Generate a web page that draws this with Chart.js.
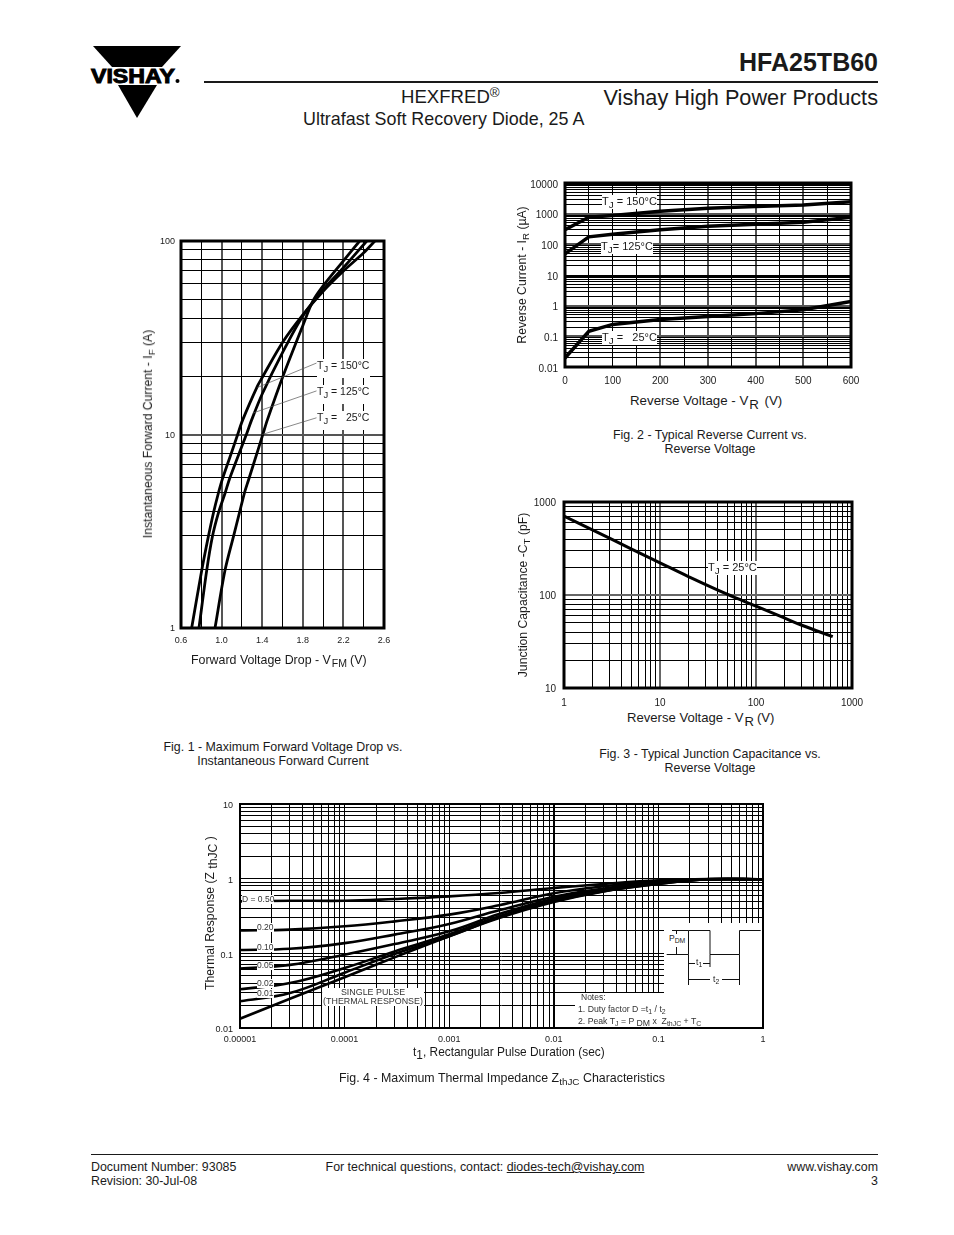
<!DOCTYPE html>
<html>
<head>
<meta charset="utf-8">
<script src="https://cdn.jsdelivr.net/npm/chart.js@4"></script>
<style>
  html, body { margin: 0; padding: 0; background: #fff; }
  body { position: relative; width: 954px; height: 1235px; overflow: hidden; font-family: 'Liberation Sans', Arial, sans-serif; color: #1a1a1a; }
  canvas { position: absolute; }
  .t { position: absolute; white-space: nowrap; line-height: 1; }
  .c { transform: translateX(-50%); text-align: center; }
  .r { transform: translateX(-100%); }
  .v { transform: translate(-50%, -50%) rotate(-90deg); font-size: 12.2px; }
  .cap { font-size: 12.4px; }
  .ax { font-size: 12.4px; }
  .lab { background: #fff; font-size: 10.5px; padding: 1px 0 2px; }
  .lab sub { font-size: .9em; }
  .tall { padding-bottom: 7px; }
  .sm { background: #fff; font-size: 8.5px; color: #333; }
  sub { font-size: .8em; line-height: 0; vertical-align: -.28em; }
  sup { font-size: .72em; line-height: 0; vertical-align: .45em; }
  .ax sub { font-size: .85em; margin: 0 3px 0 1px; }
  .rule { position: absolute; background: #1a1a1a; }
  .blank { position: absolute; background: #fff; }
  svg { position: absolute; }
</style>
</head>
<body>

<!-- page header -->
<svg style="left:85px;top:40px" width="105" height="85" viewBox="85 40 105 85">
  <polygon points="93,46 181,46 162,67 112,67" fill="#000"/>
  <polygon points="118,85 157,85 137,118" fill="#000"/>
  <text x="91" y="83" font-family="Liberation Sans" font-weight="bold" font-size="21" textLength="84" lengthAdjust="spacingAndGlyphs" stroke="#000" stroke-width="1">VISHAY</text>
  <circle cx="177.5" cy="81" r="2" fill="#000"/>
</svg>
<div class="t r" style="left:878px;top:50px;font-size:25px;font-weight:bold">HFA25TB60</div>
<div class="rule" style="left:204px;top:81px;width:674px;height:2px"></div>
<div class="t r" style="left:878px;top:87px;font-size:21.7px">Vishay High Power Products</div>
<div class="t" style="left:401px;top:88px;font-size:18.6px">HEXFRED<sup>®</sup></div>
<div class="t" style="left:303px;top:111px;font-size:17.9px">Ultrafast Soft Recovery Diode, 25 A</div>

<canvas id="fig1" width="260" height="430" style="left:140px;top:225px"></canvas>
<canvas id="fig2" width="350" height="220" style="left:520px;top:170px"></canvas>
<canvas id="fig3" width="350" height="220" style="left:520px;top:490px"></canvas>
<canvas id="fig4" width="575" height="260" style="left:205px;top:790px"></canvas>

<!-- fig 1 text -->
<div class="t v" style="left:148px;top:434px">Instantaneous Forward Current - I<sub>F</sub> (A)</div>
<div class="t ax" style="left:191px;top:654px">Forward Voltage Drop - V<sub>FM</sub>(V)</div>
<div class="t lab tall" style="left:317px;top:359px;width:53px">T<sub>J</sub> = 150°C</div>
<div class="t lab tall" style="left:317px;top:385px;width:53px">T<sub>J</sub> = 125°C</div>
<div class="t lab tall" style="left:317px;top:411px;width:53px">T<sub>J</sub> =&nbsp;&nbsp; 25°C</div>
<div class="t cap c" style="left:283px;top:741px">Fig. 1 - Maximum Forward Voltage Drop vs.</div>
<div class="t cap c" style="left:283px;top:755px">Instantaneous Forward Current</div>

<!-- fig 2 text -->
<div class="t v" style="left:522px;top:275px">Reverse Current - I<sub>R</sub> (µA)</div>
<div class="t ax" style="left:630px;top:394px;font-size:13.3px">Reverse Voltage - V<sub style="font-size:1em;margin:0 2px 0 1px">R</sub> (V)</div>
<div class="t lab" style="left:602px;top:195px;font-size:11px">T<sub>J</sub> = 150°C</div>
<div class="t lab" style="left:601px;top:240px;font-size:11px">T<sub>J</sub>= 125°C</div>
<div class="t lab" style="left:602px;top:331px;font-size:11px">T<sub>J</sub> =&nbsp;&nbsp; 25°C</div>
<div class="t cap c" style="left:710px;top:429px">Fig. 2 - Typical Reverse Current vs.</div>
<div class="t cap c" style="left:710px;top:443px">Reverse Voltage</div>

<!-- fig 3 text -->
<div class="t v" style="left:523px;top:595px">Junction Capacitance -C<sub>T</sub> (pF)</div>
<div class="t ax" style="left:627px;top:711px;font-size:13.1px">Reverse Voltage - V<sub style="font-size:1em">R</sub>(V)</div>
<div class="t lab" style="left:708px;top:561px;font-size:11px">T<sub>J</sub> = 25°C</div>
<div class="t cap c" style="left:710px;top:748px">Fig. 3 - Typical Junction Capacitance vs.</div>
<div class="t cap c" style="left:710px;top:762px">Reverse Voltage</div>

<!-- fig 4 text -->
<div class="t v" style="left:210px;top:913px">Thermal Response (Z<sub style="font-size:1em"> thJC </sub>)</div>
<div class="t ax" style="left:413px;top:1047px;font-size:11.9px">t<sub style="font-size:1em;margin:0">1</sub>, Rectangular Pulse Duration (sec)</div>
<div class="t sm" style="left:242px;top:895px">D = 0.50</div>
<div class="t sm" style="left:257px;top:923px">0.20</div>
<div class="t sm" style="left:257px;top:943px">0.10</div>
<div class="t sm" style="left:257px;top:961px">0.05</div>
<div class="t sm" style="left:257px;top:979px">0.02</div>
<div class="t sm" style="left:257px;top:989px">0.01</div>
<div class="t sm c" style="left:373px;top:988px;padding:0 1px;line-height:9px;font-size:8.9px">SINGLE PULSE<br>(THERMAL RESPONSE)</div>
<div class="blank" style="left:664px;top:923px;width:98px;height:72px"></div>
<div class="blank" style="left:575px;top:993px;width:187px;height:34px"></div>
<svg style="left:664px;top:923px" width="100" height="66" fill="none" stroke="#111" stroke-width="1">
  <path d="M2.7 31.5H24.5V7.5H46V31.5H75.5V7.5H96.7"/>
  <path d="M24.5 31.5V62M46 31.5V44M75.5 31.5V62"/>
  <path d="M8 7.5H24.5M12.5 7.5V15M12.5 24V31.5"/>
  <path d="M24.5 40.5H31M39 40.5H46M24.5 56.5H46M58 56.5H75.5"/>
</svg>
<div class="t" style="left:669px;top:934px;font-size:8.5px;background:#fff">P<sub>DM</sub></div>
<div class="t" style="left:696px;top:958px;font-size:8.5px">t<sub>1</sub></div>
<div class="t" style="left:713px;top:975px;font-size:8.5px">t<sub>2</sub></div>
<div class="t" style="left:581px;top:993px;font-size:8.5px;color:#333">Notes:</div>
<div class="t" style="left:578px;top:1005px;font-size:8.7px;color:#333">1. Duty factor D =t<sub>1</sub> / t<sub>2</sub></div>
<div class="t" style="left:578px;top:1017px;font-size:8.7px;color:#333">2. Peak T<sub>J</sub> = P <sub style="font-size:1em">DM</sub> x&nbsp; Z<sub>thJC</sub> + T<sub>C</sub></div>
<div class="t cap" style="left:339px;top:1072px">Fig. 4 - Maximum Thermal Impedance Z<sub>thJC</sub> Characteristics</div>

<!-- page footer -->
<div class="rule" style="left:91px;top:1154px;width:787px;height:1px"></div>
<div class="t cap" style="left:91px;top:1161px">Document Number: 93085</div>
<div class="t cap" style="left:91px;top:1175px">Revision: 30-Jul-08</div>
<div class="t cap c" style="left:485px;top:1161px">For technical questions, contact: <u>diodes-tech@vishay.com</u></div>
<div class="t cap r" style="left:878px;top:1161px">www.vishay.com</div>
<div class="t cap r" style="left:878px;top:1175px">3</div>

<script>
// fig 1 - forward voltage drop
const vf150 = [0.705, 0.804, 0.869, 0.919, 0.968, 1.007, 1.099, 1.15, 1.208, 1.353, 1.4, 1.6, 1.8, 2.0, 2.2, 2.4, 2.51]
const if150 = [1, 1.98, 2.96, 3.92, 4.97, 5.86, 8.1, 9.7, 11.9, 17.8, 19.7, 29.9, 41.5, 55, 70, 87, 100]
const vf125 = [0.777, 0.853, 0.909, 0.968, 1.034, 1.076, 1.165, 1.247, 1.296, 1.4, 1.6, 1.8, 2.0, 2.2, 2.43]
const if125 = [1, 1.98, 2.96, 3.92, 4.97, 5.86, 7.8, 10.1, 11.9, 16.2, 26.5, 41, 56, 72.8, 100]
const vf25 = [0.935, 1.033, 1.116, 1.175, 1.224, 1.263, 1.362, 1.411, 1.451, 1.6, 1.8, 1.9, 2.0, 2.2, 2.36]
const if25 = [1, 1.98, 2.96, 3.92, 4.97, 5.77, 8.43, 10.2, 11.9, 19.7, 36.5, 49, 58.6, 79, 100]
const leaderV150 = [1.353, 1.935]
const leaderI150 = [17.5, 23.4]
const leaderV125 = [1.307, 1.935]
const leaderI125 = [12.9, 16.8]
const leaderV25 = [1.4, 1.935]
const leaderI25 = [10, 12.2]
const fig1XTicks = [0.6, 0.8, 1.0, 1.2, 1.4, 1.6, 1.8, 2.0, 2.2, 2.4, 2.6]
const fig1XLabels = [0.6, 1.0, 1.4, 1.8, 2.2, 2.6]
const fig1XHeavy = [1.0, 1.4, 1.8, 2.2]
const fig1YLabels = [1, 10, 100]

// fig 2 - reverse current
const vr = [0, 50, 100, 200, 300, 400, 500, 600]
const ir150 = [300, 764, 865, 1197, 1500, 1700, 1923, 2450]
const ir125 = [49, 175, 214, 300, 389, 452, 525, 764]
const ir25 = [0.0197, 0.146, 0.245, 0.357, 0.447, 0.55, 0.74, 1.38]
const fig2XTicks = [0, 50, 100, 150, 200, 250, 300, 350, 400, 450, 500, 550, 600]
const fig2XLabels = [0, 100, 200, 300, 400, 500, 600]
const fig2XHeavy = [200, 300, 400, 500]
const fig2YLabels = [0.01, 0.1, 1, 10, 100, 1000, 10000]

// fig 3 - junction capacitance
const vrCap = [1, 2, 5, 10, 20, 50, 100, 200, 300, 630]
const capT = [706, 499, 314, 222, 157, 102, 75.9, 56.3, 47.3, 35.7]
const fig3XLabels = [1, 10, 100, 1000]
const fig3YLabels = [10, 100, 1000]

// fig 4 - thermal impedance
const t1 = [0.00001, 0.00003, 0.0001, 0.0003, 0.001, 0.003, 0.01, 0.03, 0.1, 0.3, 1]
const zD50 = [0.497, 0.507, 0.505, 0.535, 0.58, 0.643, 0.75, 0.85, 0.95, 0.985, 0.98]
const zD20 = [0.203, 0.208, 0.23, 0.268, 0.33, 0.44, 0.637, 0.79, 0.925, 0.985, 0.98]
const zD10 = [0.111, 0.115, 0.137, 0.178, 0.247, 0.377, 0.574, 0.74, 0.91, 0.98, 0.98]
const zD05 = [0.0624, 0.07, 0.096, 0.133, 0.197, 0.336, 0.54, 0.71, 0.89, 0.98, 0.98]
const zD02 = [0.033, 0.04, 0.0637, 0.106, 0.18, 0.313, 0.513, 0.69, 0.87, 0.98, 0.98]
const zD01 = [0.0228, 0.0294, 0.055, 0.098, 0.169, 0.303, 0.497, 0.68, 0.85, 0.98, 0.98]
const zSingle = [0.0133, 0.0247, 0.0478, 0.0883, 0.169, 0.297, 0.487, 0.676, 0.85, 0.98, 0.98]
const fig4XLabels = [0.00001, 0.0001, 0.001, 0.01, 0.1, 1]
const fig4YLabels = [0.01, 0.1, 1, 10]

const minorSteps = [1, 2, 3, 4, 5, 6, 7, 8, 9]
const black = '#000'

const pairs = (xs, ys) => xs.map((x, i) => ({ x, y: ys[i] }))

// gridlines at 1..9 of every decade, the last decade closes the axis
function logTicks(decades) {
  const out = []
  decades.slice(0, -1).forEach(d => minorSteps.forEach(m => out.push(d * m)))
  out.push(decades[decades.length - 1])
  return out
}

function near(list, v) {
  return list.some(d => Math.abs(d - v) <= d * 1e-6 || Math.abs(d - v) < 1e-9)
}

const curve = (data, width, tension) => ({
  data,
  borderColor: black,
  borderWidth: width,
  pointRadius: 0,
  showLine: true,
  tension,
})

const leader = data => ({ data, borderColor: '#555', borderWidth: 0.7, pointRadius: 0, showLine: true })

// closes the plot with the heavy outline all four figures have
const framePlugin = {
  id: 'frame',
  afterDatasetsDraw(chart, args, opts) {
    const { left, top, width, height } = chart.chartArea
    const ctx = chart.ctx
    ctx.save()
    ctx.strokeStyle = black
    ctx.lineWidth = opts.width
    ctx.strokeRect(left, top, width, height)
    ctx.restore()
  },
}

function axis(type, ticks, labels, o) {
  return {
    type,
    min: ticks[0],
    max: ticks[ticks.length - 1],
    afterBuildTicks: scale => { scale.ticks = ticks.map(value => ({ value })) },
    afterFit: scale => {
      if (o.width) scale.width = o.width
      if (o.height) scale.height = o.height
      // end labels must not push the plot area in
      scale.paddingLeft = scale.paddingRight = scale.paddingTop = scale.paddingBottom = 0
    },
    border: { display: false },
    grid: {
      drawTicks: false,
      color: c => (near(o.heavy, c.tick.value) ? o.heavyColor : black),
      lineWidth: c => (near(o.heavy, c.tick.value) ? o.heavyWidth : 1),
    },
    ticks: {
      autoSkip: false,
      minRotation: 0,
      maxRotation: 0,
      padding: o.padding,
      labelOffset: o.shift || 0,
      color: '#1a1a1a',
      font: { family: 'Liberation Sans', size: o.size },
      callback: v => (near(labels, v) ? (o.fixed ? v.toFixed(o.fixed) : String(v)) : ''),
    },
  }
}

function draw(id, datasets, x, y, top, right, frame) {
  return new Chart(document.getElementById(id), {
    type: 'scatter',
    data: { datasets },
    options: {
      responsive: false,
      animation: false,
      layout: { padding: { top, right, left: 0, bottom: 0 } },
      plugins: { legend: { display: false }, tooltip: { enabled: false }, frame: { width: frame } },
      scales: { x, y },
    },
    plugins: [framePlugin],
  })
}

draw('fig1',
  [
    leader(pairs(leaderV150, leaderI150)),
    leader(pairs(leaderV125, leaderI125)),
    leader(pairs(leaderV25, leaderI25)),
    curve(pairs(vf150, if150), 2.8, 0.3),
    curve(pairs(vf125, if125), 2.8, 0.3),
    curve(pairs(vf25, if25), 2.8, 0.3),
  ],
  axis('linear', fig1XTicks, fig1XLabels, { height: 27, padding: 7, size: 9, fixed: 1, heavy: fig1XHeavy, heavyColor: '#555', heavyWidth: 2 }),
  axis('logarithmic', logTicks(fig1YLabels), fig1YLabels, { width: 41, padding: 6, size: 9, shift: 1, heavy: [10], heavyColor: '#555', heavyWidth: 2 }),
  16, 16, 3)

draw('fig2',
  [curve(pairs(vr, ir150), 3.5, 0), curve(pairs(vr, ir125), 3.5, 0), curve(pairs(vr, ir25), 3.5, 0)],
  axis('linear', fig2XTicks, fig2XLabels, { height: 23, padding: 8, size: 10, heavy: fig2XHeavy, heavyColor: '#555', heavyWidth: 2 }),
  axis('logarithmic', logTicks(fig2YLabels), fig2YLabels, { width: 45, padding: 7, size: 10, shift: 2, heavy: [0.1, 1, 100, 1000], heavyColor: '#555', heavyWidth: 2 }),
  13, 19, 3)

draw('fig3',
  [curve(pairs(vrCap, capT), 3, 0.4)],
  axis('logarithmic', logTicks(fig3XLabels), fig3XLabels, { height: 22, padding: 9, size: 10, heavy: [10, 100], heavyColor: '#666', heavyWidth: 2 }),
  axis('logarithmic', logTicks(fig3YLabels), fig3YLabels, { width: 44, padding: 8, size: 10, shift: 1, heavy: [100], heavyColor: '#666', heavyWidth: 2 }),
  12, 18, 3)

draw('fig4',
  [zD50, zD20, zD10, zD05, zD02, zD01, zSingle].map(z => curve(pairs(t1, z), 2.6, 0.4)),
  axis('logarithmic', logTicks(fig4XLabels), fig4XLabels, { height: 22, padding: 6, size: 9, heavy: [0.01], heavyColor: black, heavyWidth: 2 }),
  axis('logarithmic', logTicks(fig4YLabels), fig4YLabels, { width: 35, padding: 7, size: 9, shift: 2, heavy: [], heavyColor: black, heavyWidth: 1 }),
  14, 17, 2)
</script>
</body>
</html>
